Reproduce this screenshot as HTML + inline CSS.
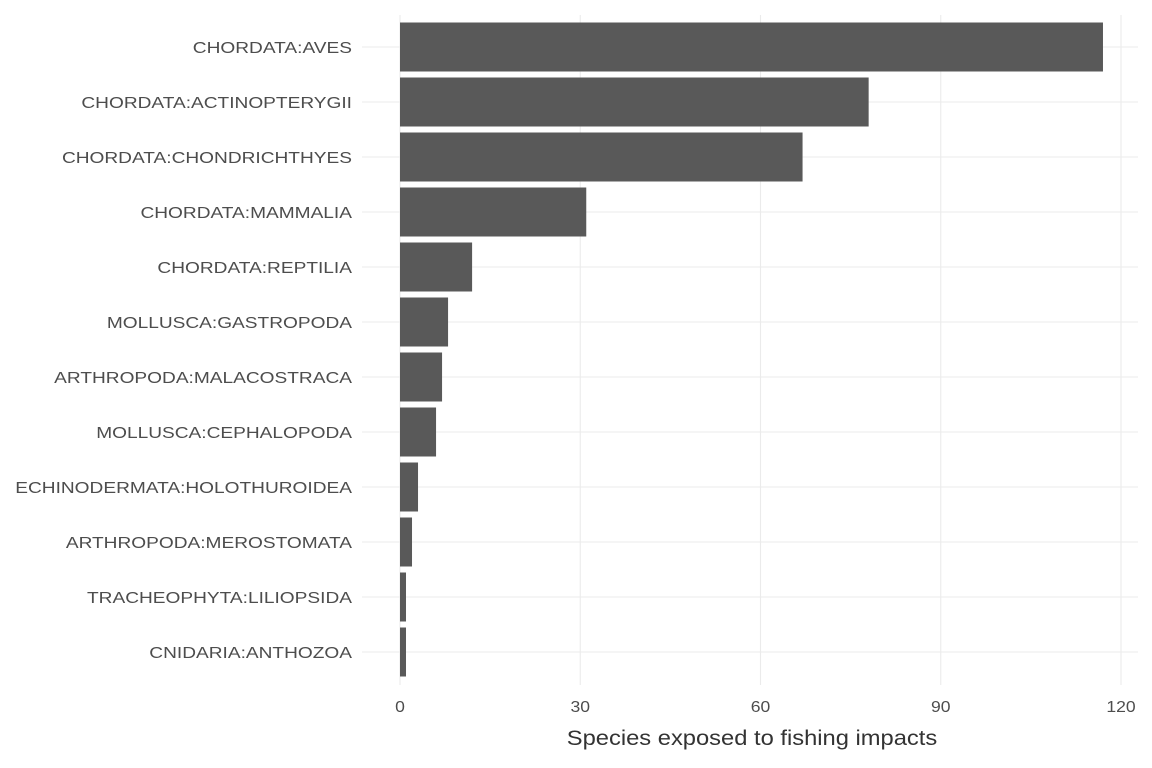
<!DOCTYPE html>
<html><head><meta charset="utf-8"><style>
html,body{margin:0;padding:0;background:#fff;}
svg{display:block;font-family:"Liberation Sans",sans-serif;}
</style></head><body>
<svg id="chart" width="1152" height="768"></svg>
<script>
const categories=["CHORDATA:AVES","CHORDATA:ACTINOPTERYGII","CHORDATA:CHONDRICHTHYES","CHORDATA:MAMMALIA","CHORDATA:REPTILIA","MOLLUSCA:GASTROPODA","ARTHROPODA:MALACOSTRACA","MOLLUSCA:CEPHALOPODA","ECHINODERMATA:HOLOTHUROIDEA","ARTHROPODA:MEROSTOMATA","TRACHEOPHYTA:LILIOPSIDA","CNIDARIA:ANTHOZOA"];
const values=[117,78,67,31,12,8,7,6,3,2,1,1];
const ticks=[0,30,60,90,120];
const NS="http://www.w3.org/2000/svg";
const svg=document.getElementById('chart');
const x0=400,pxPer=(1121-400)/120,panelL=362,panelR=1138,panelT=15,panelB=685;
const xs=v=>x0+v*pxPer;
const y0=47,step=55,barH=49;
const ys=i=>y0+i*step;
function mk(t,a,p){const e=document.createElementNS(NS,t);for(const k in a)e.setAttribute(k,a[k]);(p||svg).appendChild(e);return e;}
ticks.forEach(t=>{const l=mk('line',{x1:xs(t),x2:xs(t),y1:panelT,y2:panelB,stroke:'#ebebeb','stroke-width':1.1});


const tx=mk('text',{x:xs(t),y:712,'text-anchor':'middle','font-size':16,fill:'#4d4d4d',transform:`translate(${xs(t)},0) scale(1.1,1) translate(${-xs(t)},0)`});tx.textContent=t;

});
categories.forEach((c,i)=>{const l=mk('line',{x1:panelL,x2:panelR,y1:ys(i),y2:ys(i),stroke:'#ebebeb','stroke-width':1.1});

});
const lg=mk('g',{transform:'translate(352,0) scale(1.195,1) translate(-352,0)'});


categories.forEach((c,i)=>{
const r=mk('rect',{x:xs(0),y:ys(i)-barH/2,width:xs(values[i])-xs(0),height:barH,fill:'#595959'});


const t=mk('text',{x:352,y:ys(i)+6,'text-anchor':'end','font-size':16,fill:'#4d4d4d'},lg);t.textContent=c;

});
const xt=mk('text',{x:752,y:745,'text-anchor':'middle','font-size':21,fill:'#333',transform:'translate(752,0) scale(1.13,1) translate(-752,0)'});xt.textContent="Species exposed to fishing impacts";


</script>
</body></html>
